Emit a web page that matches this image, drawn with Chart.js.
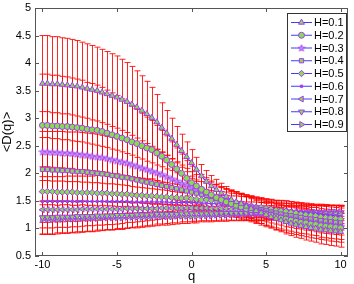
<!DOCTYPE html>
<html>
<head>
<meta charset="utf-8">
<script src="https://cdn.jsdelivr.net/npm/chart.js@4"></script>
<style>
  html, body { margin: 0; padding: 0; background: #fff; }
  #wrap { width: 354px; height: 284px; }
</style>
</head>
<body>
<div id="wrap"><canvas id="grafico"></canvas></div>
<script>
// valores de q (eixo x)
const qValores = [-10, -9.67, -9.33, -9, -8.67, -8.33, -8, -7.67, -7.33, -7, -6.67, -6.33, -6, -5.67, -5.33, -5,
  -4.67, -4.33, -4, -3.67, -3.33, -3, -2.67, -2.33, -2, -1.67, -1.33, -1, -0.67, -0.33, 0,
  0.33, 0.67, 1, 1.33, 1.67, 2, 2.33, 2.67, 3, 3.33, 3.67, 4, 4.33, 4.67, 5,
  5.33, 5.67, 6, 6.33, 6.67, 7, 7.33, 7.67, 8, 8.33, 8.67, 9, 9.33, 9.67, 10];

const rotulos = ["H=0.1", "H=0.2", "H=0.3", "H=0.4", "H=0.5", "H=0.6", "H=0.7", "H=0.8", "H=0.9"];

// <D(q)> de cada serie
const dH01 = [3.63, 3.63, 3.62, 3.62, 3.61, 3.60, 3.59, 3.58, 3.56, 3.54, 3.52, 3.50, 3.47, 3.44, 3.41, 3.38,
  3.34, 3.30, 3.25, 3.20, 3.14, 3.08, 3.01, 2.93, 2.83, 2.73, 2.63, 2.52, 2.41, 2.30, 2.19,
  2.07, 1.95, 1.85, 1.77, 1.70, 1.64, 1.58, 1.52, 1.48, 1.45, 1.40, 1.36, 1.32, 1.28, 1.25,
  1.21, 1.18, 1.15, 1.12, 1.09, 1.07, 1.05, 1.03, 1.01, 1.00, 0.98, 0.97, 0.96, 0.95, 0.94];
const dH02 = [2.87, 2.87, 2.86, 2.86, 2.85, 2.85, 2.84, 2.83, 2.82, 2.80, 2.79, 2.78, 2.76, 2.73, 2.70, 2.67,
  2.64, 2.61, 2.57, 2.54, 2.50, 2.46, 2.43, 2.37, 2.31, 2.24, 2.16, 2.08, 2.00, 1.91, 1.83,
  1.77, 1.71, 1.66, 1.61, 1.56, 1.52, 1.48, 1.45, 1.42, 1.39, 1.36, 1.34, 1.31, 1.28, 1.26,
  1.24, 1.21, 1.19, 1.17, 1.15, 1.13, 1.11, 1.10, 1.08, 1.07, 1.05, 1.04, 1.03, 1.02, 1.01];
const dH03 = [2.39, 2.39, 2.38, 2.38, 2.37, 2.37, 2.36, 2.35, 2.34, 2.33, 2.31, 2.30, 2.29, 2.27, 2.25, 2.23,
  2.21, 2.19, 2.16, 2.13, 2.10, 2.07, 2.04, 2.01, 1.98, 1.94, 1.90, 1.86, 1.82, 1.79, 1.75,
  1.71, 1.68, 1.64, 1.60, 1.57, 1.53, 1.50, 1.47, 1.44, 1.41, 1.39, 1.36, 1.33, 1.31, 1.28,
  1.26, 1.23, 1.21, 1.19, 1.18, 1.16, 1.14, 1.13, 1.11, 1.10, 1.08, 1.07, 1.06, 1.05, 1.04];
const dH04 = [2.07, 2.07, 2.06, 2.06, 2.05, 2.05, 2.04, 2.03, 2.03, 2.02, 2.01, 2.00, 1.99, 1.98, 1.96, 1.95,
  1.93, 1.92, 1.90, 1.88, 1.86, 1.84, 1.82, 1.80, 1.78, 1.76, 1.74, 1.72, 1.70, 1.68, 1.66,
  1.64, 1.62, 1.60, 1.58, 1.55, 1.53, 1.51, 1.48, 1.46, 1.44, 1.41, 1.39, 1.37, 1.34, 1.32,
  1.30, 1.28, 1.26, 1.24, 1.23, 1.21, 1.20, 1.18, 1.17, 1.16, 1.14, 1.13, 1.12, 1.11, 1.10];
const dH05 = [1.67, 1.67, 1.67, 1.66, 1.66, 1.66, 1.66, 1.65, 1.65, 1.65, 1.65, 1.64, 1.64, 1.64, 1.63, 1.63,
  1.62, 1.62, 1.61, 1.60, 1.60, 1.59, 1.59, 1.58, 1.57, 1.57, 1.56, 1.56, 1.55, 1.55, 1.54,
  1.53, 1.52, 1.52, 1.51, 1.50, 1.49, 1.48, 1.46, 1.45, 1.44, 1.42, 1.41, 1.39, 1.38, 1.36,
  1.35, 1.33, 1.32, 1.31, 1.29, 1.28, 1.26, 1.25, 1.24, 1.23, 1.21, 1.20, 1.19, 1.18, 1.17];
const dH06 = [1.49, 1.49, 1.49, 1.49, 1.49, 1.49, 1.49, 1.49, 1.49, 1.49, 1.49, 1.49, 1.49, 1.49, 1.49, 1.49,
  1.49, 1.49, 1.48, 1.48, 1.48, 1.48, 1.48, 1.48, 1.48, 1.48, 1.47, 1.47, 1.47, 1.47, 1.47,
  1.47, 1.46, 1.46, 1.45, 1.45, 1.44, 1.44, 1.43, 1.43, 1.42, 1.41, 1.40, 1.39, 1.38, 1.37,
  1.36, 1.35, 1.34, 1.33, 1.32, 1.31, 1.30, 1.29, 1.28, 1.27, 1.26, 1.25, 1.24, 1.23, 1.22];
const dH07 = [1.34, 1.34, 1.34, 1.34, 1.34, 1.34, 1.34, 1.34, 1.35, 1.35, 1.35, 1.35, 1.35, 1.35, 1.35, 1.35,
  1.35, 1.36, 1.36, 1.36, 1.36, 1.36, 1.36, 1.36, 1.37, 1.37, 1.37, 1.37, 1.37, 1.37, 1.37,
  1.37, 1.37, 1.37, 1.36, 1.36, 1.36, 1.36, 1.35, 1.35, 1.35, 1.34, 1.34, 1.34, 1.33, 1.33,
  1.32, 1.32, 1.31, 1.31, 1.30, 1.30, 1.29, 1.29, 1.28, 1.28, 1.27, 1.27, 1.26, 1.26, 1.25];
const dH08 = [1.20, 1.20, 1.20, 1.21, 1.21, 1.21, 1.21, 1.22, 1.22, 1.22, 1.22, 1.23, 1.23, 1.23, 1.23, 1.24,
  1.24, 1.24, 1.24, 1.25, 1.25, 1.25, 1.25, 1.26, 1.26, 1.26, 1.26, 1.26, 1.27, 1.27, 1.27,
  1.27, 1.27, 1.27, 1.27, 1.27, 1.28, 1.28, 1.28, 1.28, 1.28, 1.28, 1.28, 1.28, 1.28, 1.28,
  1.28, 1.28, 1.28, 1.28, 1.28, 1.28, 1.28, 1.28, 1.28, 1.28, 1.28, 1.28, 1.28, 1.28, 1.28];
const dH09 = [1.16, 1.16, 1.16, 1.16, 1.17, 1.17, 1.17, 1.17, 1.18, 1.18, 1.18, 1.18, 1.19, 1.19, 1.19, 1.19,
  1.19, 1.20, 1.20, 1.20, 1.20, 1.20, 1.21, 1.21, 1.21, 1.21, 1.21, 1.22, 1.22, 1.22, 1.22,
  1.22, 1.23, 1.23, 1.23, 1.24, 1.24, 1.24, 1.25, 1.25, 1.25, 1.26, 1.26, 1.26, 1.26, 1.27,
  1.27, 1.27, 1.27, 1.28, 1.28, 1.28, 1.28, 1.28, 1.29, 1.29, 1.29, 1.29, 1.30, 1.30, 1.30];

// barras de erro (meia altura)
const eH01 = [0.87, 0.87, 0.86, 0.86, 0.85, 0.85, 0.84, 0.83, 0.82, 0.81, 0.80, 0.79, 0.78, 0.77, 0.76, 0.75,
  0.73, 0.71, 0.69, 0.66, 0.63, 0.59, 0.55, 0.50, 0.45, 0.41, 0.37, 0.33, 0.30, 0.27, 0.24,
  0.22, 0.21, 0.20, 0.19, 0.19, 0.18, 0.18, 0.18, 0.18, 0.18, 0.18, 0.18, 0.19, 0.19, 0.20,
  0.20, 0.21, 0.21, 0.22, 0.22, 0.23, 0.23, 0.24, 0.24, 0.25, 0.26, 0.26, 0.27, 0.27, 0.28];
const eH02 = [0.93, 0.93, 0.92, 0.92, 0.91, 0.90, 0.89, 0.88, 0.87, 0.85, 0.84, 0.82, 0.80, 0.78, 0.76, 0.74,
  0.71, 0.68, 0.65, 0.62, 0.59, 0.56, 0.53, 0.50, 0.47, 0.44, 0.41, 0.38, 0.35, 0.32, 0.30,
  0.28, 0.27, 0.26, 0.25, 0.24, 0.23, 0.23, 0.22, 0.22, 0.22, 0.22, 0.22, 0.22, 0.22, 0.23,
  0.23, 0.23, 0.23, 0.24, 0.24, 0.24, 0.24, 0.25, 0.25, 0.25, 0.25, 0.25, 0.26, 0.26, 0.26];
const eH03 = [0.73, 0.73, 0.72, 0.72, 0.71, 0.71, 0.70, 0.69, 0.68, 0.67, 0.66, 0.65, 0.63, 0.62, 0.60, 0.59,
  0.57, 0.55, 0.53, 0.51, 0.49, 0.47, 0.45, 0.43, 0.41, 0.39, 0.37, 0.35, 0.33, 0.30, 0.28,
  0.27, 0.26, 0.25, 0.24, 0.23, 0.23, 0.22, 0.22, 0.22, 0.22, 0.22, 0.22, 0.22, 0.22, 0.22,
  0.22, 0.22, 0.22, 0.22, 0.23, 0.23, 0.23, 0.23, 0.23, 0.23, 0.24, 0.24, 0.24, 0.24, 0.24];
const eH04 = [0.58, 0.58, 0.57, 0.57, 0.56, 0.56, 0.55, 0.55, 0.54, 0.53, 0.52, 0.51, 0.50, 0.49, 0.48, 0.47,
  0.46, 0.44, 0.43, 0.41, 0.40, 0.38, 0.37, 0.35, 0.34, 0.32, 0.31, 0.29, 0.28, 0.26, 0.25,
  0.24, 0.23, 0.23, 0.22, 0.22, 0.21, 0.21, 0.21, 0.21, 0.20, 0.20, 0.20, 0.20, 0.20, 0.20,
  0.20, 0.20, 0.20, 0.21, 0.21, 0.21, 0.21, 0.21, 0.21, 0.22, 0.22, 0.22, 0.22, 0.22, 0.22];
const eH05 = [0.45, 0.45, 0.44, 0.44, 0.44, 0.43, 0.43, 0.42, 0.42, 0.41, 0.40, 0.40, 0.39, 0.38, 0.37, 0.36,
  0.35, 0.34, 0.33, 0.32, 0.31, 0.30, 0.29, 0.28, 0.27, 0.26, 0.25, 0.24, 0.22, 0.21, 0.20,
  0.20, 0.19, 0.19, 0.18, 0.18, 0.18, 0.18, 0.18, 0.18, 0.18, 0.18, 0.18, 0.18, 0.18, 0.18,
  0.18, 0.18, 0.18, 0.19, 0.19, 0.19, 0.19, 0.19, 0.19, 0.19, 0.20, 0.20, 0.20, 0.20, 0.20];
const eH06 = [0.38, 0.38, 0.37, 0.37, 0.37, 0.36, 0.36, 0.36, 0.35, 0.35, 0.34, 0.34, 0.33, 0.32, 0.32, 0.31,
  0.30, 0.29, 0.28, 0.27, 0.26, 0.25, 0.24, 0.23, 0.22, 0.21, 0.20, 0.19, 0.18, 0.18, 0.17,
  0.17, 0.16, 0.16, 0.16, 0.16, 0.16, 0.16, 0.16, 0.16, 0.16, 0.16, 0.16, 0.16, 0.16, 0.16,
  0.16, 0.16, 0.17, 0.17, 0.17, 0.17, 0.17, 0.17, 0.17, 0.17, 0.18, 0.18, 0.18, 0.18, 0.18];
const eH07 = [0.33, 0.33, 0.33, 0.32, 0.32, 0.32, 0.31, 0.31, 0.31, 0.30, 0.30, 0.29, 0.29, 0.28, 0.28, 0.27,
  0.26, 0.25, 0.25, 0.24, 0.23, 0.22, 0.21, 0.20, 0.19, 0.18, 0.18, 0.17, 0.16, 0.16, 0.15,
  0.15, 0.14, 0.14, 0.14, 0.14, 0.14, 0.14, 0.14, 0.14, 0.14, 0.14, 0.14, 0.14, 0.14, 0.14,
  0.14, 0.14, 0.15, 0.15, 0.15, 0.15, 0.15, 0.15, 0.15, 0.15, 0.16, 0.16, 0.16, 0.16, 0.16];
const eH08 = [0.30, 0.30, 0.30, 0.29, 0.29, 0.29, 0.28, 0.28, 0.28, 0.27, 0.27, 0.26, 0.26, 0.25, 0.25, 0.24,
  0.24, 0.23, 0.22, 0.22, 0.21, 0.20, 0.19, 0.18, 0.18, 0.17, 0.16, 0.16, 0.15, 0.15, 0.14,
  0.14, 0.13, 0.13, 0.13, 0.13, 0.13, 0.13, 0.13, 0.13, 0.13, 0.13, 0.13, 0.13, 0.13, 0.13,
  0.13, 0.13, 0.13, 0.13, 0.13, 0.13, 0.14, 0.14, 0.14, 0.14, 0.14, 0.14, 0.14, 0.14, 0.14];
const eH09 = [0.27, 0.27, 0.27, 0.26, 0.26, 0.26, 0.25, 0.25, 0.25, 0.24, 0.24, 0.23, 0.23, 0.22, 0.22, 0.21,
  0.21, 0.20, 0.19, 0.19, 0.18, 0.17, 0.17, 0.16, 0.15, 0.15, 0.14, 0.14, 0.13, 0.13, 0.12,
  0.12, 0.11, 0.11, 0.11, 0.11, 0.11, 0.11, 0.11, 0.11, 0.11, 0.11, 0.11, 0.11, 0.11, 0.11,
  0.11, 0.11, 0.11, 0.11, 0.11, 0.11, 0.11, 0.12, 0.12, 0.12, 0.12, 0.12, 0.12, 0.12, 0.12];

const ticksX = [-10, -5, 0, 5, 10];

const series = [dH01, dH02, dH03, dH04, dH05, dH06, dH07, dH08, dH09];
const erros = [eH01, eH02, eH03, eH04, eH05, eH06, eH07, eH08, eH09];

const corLinha = "#3c3cff";
const corBorda = "#a43cf0";
const corVerde = "#86dc50";
const corErro = "rgba(255, 0, 0, 0.85)";

// estrela de 5 pontas (marcador de H=0.3)
function criarEstrela() {
  const c = document.createElement("canvas");
  c.width = 8; c.height = 8;
  const g = c.getContext("2d");
  g.beginPath();
  for (let i = 0; i < 10; i++) {
    const r = i % 2 === 0 ? 3.6 : 1.5;
    const a = -Math.PI / 2 + i * Math.PI / 5;
    const px = 4 + r * Math.cos(a), py = 4.3 + r * Math.sin(a);
    if (i === 0) g.moveTo(px, py); else g.lineTo(px, py);
  }
  g.closePath();
  g.fillStyle = "#c690f2";
  g.fill();
  g.strokeStyle = corBorda;
  g.lineWidth = 0.8;
  g.stroke();
  return c;
}
const estrela = criarEstrela();

const marcadores = [
  { estilo: "triangle", rot: 0, raio: 3.4, fundo: corVerde },
  { estilo: "circle", rot: 0, raio: 3, fundo: corVerde },
  { estilo: estrela, rot: 0, raio: 3, fundo: corBorda },
  { estilo: "rect", rot: 0, raio: 3, fundo: corVerde },
  { estilo: "rectRot", rot: 0, raio: 3.2, fundo: corVerde },
  { estilo: "rect", rot: 0, raio: 1.6, fundo: corBorda },
  { estilo: "triangle", rot: -90, raio: 3.4, fundo: corVerde },
  { estilo: "triangle", rot: 180, raio: 3.4, fundo: corVerde },
  { estilo: "triangle", rot: 90, raio: 3.4, fundo: corVerde },
];

const datasets = series.map((valores, i) => ({
  label: rotulos[i],
  data: valores.map((v, k) => ({ x: qValores[k], y: v })),
  borderColor: corLinha,
  borderWidth: 1,
  pointStyle: marcadores[i].estilo,
  pointRotation: marcadores[i].rot,
  pointRadius: marcadores[i].raio,
  pointBackgroundColor: marcadores[i].fundo,
  pointBorderColor: corBorda,
  pointBorderWidth: 1,
  fill: false,
  tension: 0,
}));

// barras de erro desenhadas pelas escalas do grafico
const barrasErro = {
  id: "barrasErro",
  beforeDatasetsDraw(chart) {
    const { ctx, scales: { x, y } } = chart;
    ctx.save();
    ctx.strokeStyle = corErro;
    ctx.lineWidth = 1;
    series.forEach((valores, i) => {
      valores.forEach((v, k) => {
        const px = Math.round(x.getPixelForValue(qValores[k])) + 0.5;
        const topo = y.getPixelForValue(v + erros[i][k]);
        const base = y.getPixelForValue(v - erros[i][k]);
        ctx.beginPath();
        ctx.moveTo(px, topo);
        ctx.lineTo(px, base);
        ctx.moveTo(px - 3, topo);
        ctx.lineTo(px + 3, topo);
        ctx.moveTo(px - 3, base);
        ctx.lineTo(px + 3, base);
        ctx.stroke();
      });
    });
    ctx.restore();
  },
};

// moldura com marcas internas (estilo matlab)
const moldura = {
  id: "moldura",
  afterDraw(chart) {
    const { ctx, chartArea: a, scales: { x, y } } = chart;
    ctx.save();
    ctx.strokeStyle = "#555";
    ctx.lineWidth = 1;
    ctx.strokeRect(a.left + 0.5, a.top + 0.5, a.right - a.left - 1, a.bottom - a.top - 1);
    ctx.beginPath();
    ticksX.forEach((t) => {
      const px = Math.round(x.getPixelForValue(t)) + 0.5;
      ctx.moveTo(px, a.bottom); ctx.lineTo(px, a.bottom - 4);
      ctx.moveTo(px, a.top); ctx.lineTo(px, a.top + 4);
    });
    y.ticks.forEach((t) => {
      const py = Math.round(y.getPixelForValue(t.value)) + 0.5;
      ctx.moveTo(a.left, py); ctx.lineTo(a.left + 4, py);
      ctx.moveTo(a.right, py); ctx.lineTo(a.right - 4, py);
    });
    ctx.stroke();
    ctx.restore();
  },
};

// legenda com linha + marcador
const legenda = {
  id: "legenda",
  afterDraw(chart) {
    const { ctx } = chart;
    const bx = 287, by = 13, bw = 59, bh = 118;
    ctx.save();
    ctx.fillStyle = "#fff";
    ctx.fillRect(bx, by, bw, bh);
    ctx.strokeStyle = "#333";
    ctx.lineWidth = 1;
    ctx.strokeRect(bx + 0.5, by + 0.5, bw, bh);
    rotulos.forEach((r, i) => {
      const ly = by + 9.5 + i * 12.75;
      ctx.strokeStyle = corLinha;
      ctx.beginPath();
      ctx.moveTo(291, ly);
      ctx.lineTo(312, ly);
      ctx.stroke();
      ctx.fillStyle = marcadores[i].fundo;
      ctx.strokeStyle = corBorda;
      ctx.lineWidth = 1;
      Chart.helpers.drawPoint(ctx, {
        pointStyle: marcadores[i].estilo,
        rotation: marcadores[i].rot,
        radius: marcadores[i].raio,
        borderWidth: 1,
      }, 301.5, ly);
      ctx.fillStyle = "#000";
      ctx.font = "11px 'Liberation Sans', Arial, sans-serif";
      ctx.textBaseline = "middle";
      ctx.fillText(r, 314, ly + 0.5);
    });
    ctx.restore();
  },
};

const fonte = { family: "'Liberation Sans', Arial, sans-serif", size: 11 };

new Chart(document.getElementById("grafico").getContext("2d"), {
  type: "line",
  data: { datasets },
  options: {
    responsive: true,
    maintainAspectRatio: false,
    animation: false,
    events: [],
    layout: { padding: { left: 0, right: 6, top: 8, bottom: 0 } },
    plugins: { legend: { display: false }, tooltip: { enabled: false } },
    scales: {
      x: {
        type: "linear",
        min: -10.5,
        max: 10.5,
        afterBuildTicks: (s) => { s.ticks = ticksX.map((v) => ({ value: v })); },
        afterFit: (s) => { s.height = 28; s.paddingLeft = 0; s.paddingRight = 0; },
        grid: { display: false, drawTicks: false },
        border: { display: false },
        ticks: { color: "#000", font: fonte, padding: 2, maxRotation: 0 },
        title: { display: true, text: "q", color: "#000", font: { ...fonte, size: 13 }, padding: { top: 0, bottom: 0 } },
      },
      y: {
        min: 0.5,
        max: 5,
        afterFit: (s) => { s.width = 35; s.paddingTop = 0; s.paddingBottom = 0; },
        grid: { display: false, drawTicks: false },
        border: { display: false },
        ticks: {
          stepSize: 0.5, color: "#000", font: fonte, padding: 4,
          callback: (v) => String(Math.round(v * 10) / 10),
        },
        title: { display: true, text: "<D(q)>", color: "#000", font: { ...fonte, size: 13 }, padding: { top: 0, bottom: 0 } },
      },
    },
  },
  plugins: [barrasErro, moldura, legenda],
});
</script>
</body>
</html>
